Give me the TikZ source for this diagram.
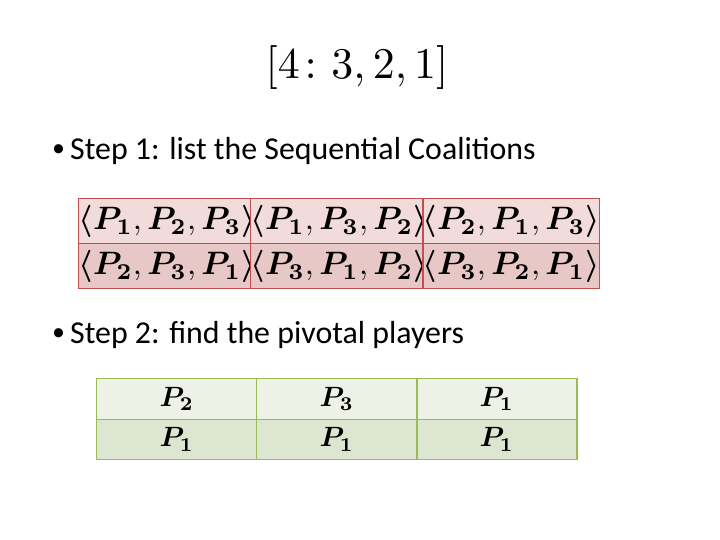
\documentclass[tikz,border=0pt]{standalone}
\usepackage{amsmath,bm,graphicx}
\usepackage{fontspec}
\setmainfont{Carlito}
\definecolor{redb}{HTML}{C0504D}
\definecolor{redt}{HTML}{F2DCDB}
\definecolor{redu}{HTML}{E8C8C7}
\definecolor{grnb}{HTML}{9BBB59}
\definecolor{grnt}{HTML}{EEF2E6}
\definecolor{grnu}{HTML}{DCE6D0}
\tikzset{
 rcell/.style={draw=redb,line width=1.5pt,minimum width=172bp,minimum height=45bp,inner sep=0pt,anchor=north west},
 gcell/.style={draw=grnb,line width=1.5pt,minimum width=160bp,minimum height=40.5bp,inner sep=0pt,anchor=north west},
 txt/.style={anchor=west,font=\fontsize{32}{38}\selectfont,inner sep=0pt},
 bul/.style={anchor=west,font=\fontsize{26}{30}\selectfont,inner sep=0pt}
}
\newcommand{\Pb}[1]{\bm{P_{#1}}}
\newcommand{\Tup}[3]{\scalebox{3.25}{$\bm{\langle} \Pb#1,\Pb#2,\Pb#3 \bm{\rangle}$}}
\newcommand{\Gp}[1]{\scalebox{2.8}{$\Pb#1$}}
\begin{document}
\begin{tikzpicture}[x=1bp,y=-1bp]
\useasboundingbox (0,0) rectangle (720,540);
\node (title) at (357,68) {\scalebox{4.4}{$[4\colon 3,2,1]$}};
\node[bul] (b1) at (52,151) {\textbullet};
\node[txt] (s1) at (70,151) {Step 1: list the Sequential Coalitions};
\node[bul] (b2) at (52,335) {\textbullet};
\node[txt] (s2) at (70,335) {Step 2: find the pivotal players};
\node[rcell,fill=redt] (a1) at (78,198) {\Tup123};
\node[rcell,fill=redt] (a2) at (250,198) {\Tup132};
\node[rcell,fill=redt] (a3) at (422,198) {\Tup213};
\node[rcell,fill=redu] (a4) at (78,243) {\Tup231};
\node[rcell,fill=redu] (a5) at (250,243) {\Tup312};
\node[rcell,fill=redu] (a6) at (422,243) {\Tup321};
\node[gcell,fill=grnt] (g1) at (96,378) {\Gp2};
\node[gcell,fill=grnt] (g2) at (256,378) {\Gp3};
\node[gcell,fill=grnt] (g3) at (416,378) {\Gp1};
\node[gcell,fill=grnu] (g4) at (96,418.5) {\Gp1};
\node[gcell,fill=grnu] (g5) at (256,418.5) {\Gp1};
\node[gcell,fill=grnu] (g6) at (416,418.5) {\Gp1};
\end{tikzpicture}
\end{document}
